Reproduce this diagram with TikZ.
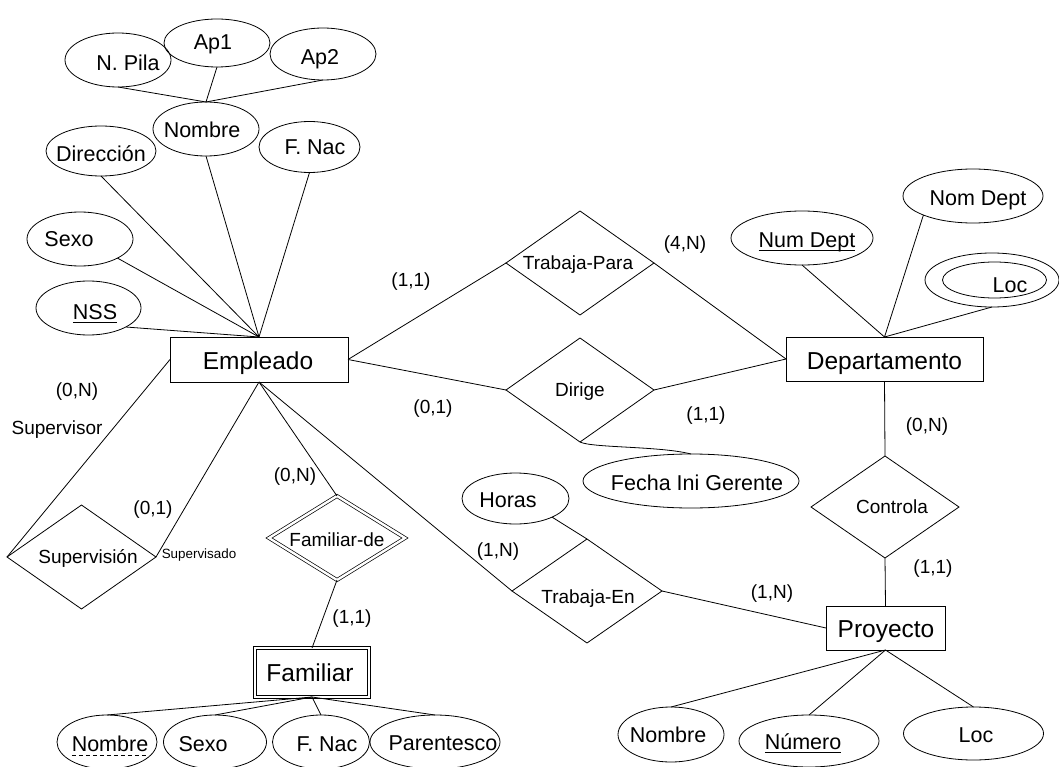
\documentclass[tikz,border=0pt]{standalone}
\usepackage{fontspec}
\setmainfont{Liberation Sans}
\usetikzlibrary{shapes.geometric,calc}

\begin{document}
\begin{tikzpicture}[x=1pt,y=-1pt,
  line width=0.8pt,
  every node/.style={inner sep=0pt, outer sep=0pt},
  entity/.style={draw, rectangle},
  weakentity/.style={draw, rectangle, double, double distance=2.4pt, line width=0.7pt},
  attr/.style={draw, ellipse},
  rel/.style={draw, diamond},
  weakrel/.style={draw, diamond, double, double distance=2.4pt, line width=0.7pt},
  fbig/.style={font=\fontsize{24.5}{28}\selectfont, text height=17.6pt, text depth=0pt},
  fattr/.style={font=\fontsize{21.5}{25}\selectfont, text height=15.5pt, text depth=0pt},
  frel/.style={font=\fontsize{19}{22}\selectfont, text height=13.7pt, text depth=0pt},
  fsmall/.style={font=\fontsize{13.4}{16}\selectfont, text height=9.6pt, text depth=0pt},
  uline/.style={line width=1.3pt},
  dline/.style={line width=0.8pt, dash pattern=on 4.5pt off 2.5pt},
]
\useasboundingbox (0,0) rectangle (1059,767);

% ---------------- Empleado and its attributes ----------------
\node[entity, minimum width=178, minimum height=45] (emp) at (259,359.5) {};
\node[fbig] (empt) at (258,361) {Empleado};

\node[attr, minimum width=106, minimum height=54] (pila) at (118,60) {};
\node[attr, minimum width=106, minimum height=48] (ap1) at (217,43) {};
\node[attr, minimum width=106, minimum height=52] (ap2) at (323,54) {};
\node[attr, minimum width=106, minimum height=54] (nombre) at (206,129) {};
\node[attr, minimum width=110, minimum height=50] (direc) at (101,151) {};
\node[attr, minimum width=101, minimum height=51] (fnac) at (309.5,147) {};
\node[attr, minimum width=106, minimum height=54] (sexo) at (80,239) {};
\node[attr, minimum width=105, minimum height=54] (nss) at (88.5,308) {};

\node[fattr] (pilat) at (128,63) {N. Pila};
\node[fattr] (ap1t) at (213,42) {Ap1};
\node[fattr] (ap2t) at (320,57) {Ap2};
\node[fattr] (nombret) at (202,130) {Nombre};
\node[fattr] (direct) at (101,154) {Dirección};
\node[fattr] (fnact) at (315,147) {F. Nac};
\node[fattr] (sexot) at (69,239) {Sexo};
\node[fattr] (nsst) at (95,312) {NSS};
\draw[uline] ($(nsst.base west)+(0,3)$) -- ($(nsst.base east)+(0,3)$);

\draw (pila.south) -- (nombre.north);
\draw (ap1.south) -- (nombre.north);
\draw (ap2.south) -- (nombre.north);
\draw (emp.north) -- (direc.south);
\draw (emp.north) -- (nombre.south);
\draw (emp.north) -- (fnac.south);
\draw (emp.north) -- (sexo.-27);
\draw (emp.north) -- (nss.-27);

% ---------------- Departamento and its attributes ----------------
\node[entity, minimum width=197, minimum height=44] (dept) at (884.5,359) {};
\node[fbig] (deptt) at (884.5,361) {Departamento};

\node[attr, minimum width=142, minimum height=54] (numd) at (802,238) {};
\node[attr, minimum width=140, minimum height=54] (nomd) at (973,196) {};
\node[attr, minimum width=134, minimum height=54] (locd) at (992,280) {};
\node[attr, minimum width=104, minimum height=36] (locdin) at (994.5,280) {};

\node[fattr] (numdt) at (807,240) {Num Dept};
\draw[uline] ($(numdt.base west)+(0,2.5)$) -- ($(numdt.base east)+(0,2.5)$);
\node[fattr] (nomdt) at (978,198) {Nom Dept};
\node[fattr] (locdt) at (1010,285) {Loc};

\draw (dept.north) -- (numd.south);
\draw (dept.north) -- (nomd.-159);
\draw (dept.north) -- (locd.south);

% ---------------- Trabaja-Para and Dirige ----------------
\node[rel, minimum width=148, minimum height=104] (tp) at (580,263) {};
\node[frel] (tpt) at (578,263) {Trabaja-Para};
\node[rel, minimum width=148, minimum height=104] (dirige) at (580,390) {};
\node[frel] (diriget) at (580,390) {Dirige};

\draw (emp.east) -- (tp.west);
\draw (tp.east) -- (dept.west);
\draw (emp.east) -- (dirige.west);
\draw (dirige.east) -- (dept.west);

\node[attr, minimum width=216, minimum height=54] (fig) at (691,481) {};
\node[fattr] (figt) at (697,483) {Fecha Ini Gerente};
\draw (dirige.south) .. controls (592,448) and (660,446) .. (fig.north);

\node[frel] (c1) at (411,280) {(1,1)};
\node[frel] (c2) at (685,243) {(4,N)};
\node[frel] (c3) at (433,407) {(0,1)};
\node[frel] (c4) at (706,414) {(1,1)};

% ---------------- Controla and Proyecto ----------------
\node[rel, minimum width=148, minimum height=102] (ctl) at (885,507) {};
\node[frel] (ctlt) at (892,507) {Controla};
\node[entity, minimum width=119, minimum height=44] (proj) at (885.5,628) {};
\node[fbig] (projt) at (886,629) {Proyecto};

\draw (dept.south) -- (ctl.north);
\draw (ctl.south) -- (proj.north);
\node[frel] (c5) at (927,425) {(0,N)};
\node[frel] (c6) at (933,567) {(1,1)};

\node[attr, minimum width=106, minimum height=55] (pnom) at (671,734.5) {};
\node[attr, minimum width=140, minimum height=52] (pnum) at (809,741) {};
\node[attr, minimum width=140, minimum height=53] (ploc) at (973.5,733.5) {};
\node[fattr] (pnomt) at (668,735) {Nombre};
\node[fattr] (pnumt) at (803,742) {Número};
\draw[uline] ($(pnumt.base west)+(0,3)$) -- ($(pnumt.base east)+(0,3)$);
\node[fattr] (ploct) at (976,735) {Loc};

\draw (proj.south) -- (pnom.north);
\draw (proj.south) -- (pnum.north);
\draw (proj.south) -- (ploc.north);

% ---------------- Trabaja-En ----------------
\node[rel, minimum width=150, minimum height=104] (te) at (587,591) {};
\node[frel] (tet) at (588,597) {Trabaja-En};
\node[attr, minimum width=107, minimum height=51] (horas) at (515.5,498.5) {};
\node[fattr] (horast) at (508,500) {Horas};

\draw (emp.south) -- (te.west);
\draw (te.east) -- (proj.west);
\draw (horas.-27) -- (te.north);
\node[frel] (c7) at (498,550) {(1,N)};
\node[frel] (c8) at (772,592) {(1,N)};

% ---------------- Supervision (recursive) ----------------
\node[rel, minimum width=149, minimum height=104] (sup) at (81.5,557) {};
\node[frel] (supt) at (88,557) {Supervisión};
\draw (emp.west) -- (sup.west);
\draw (emp.south) -- (sup.east);
\node[frel] (c9) at (77,390) {(0,N)};
\node[frel] (suprole) at (57,428) {Supervisor};
\node[frel] (c10) at (153,508) {(0,1)};
\node[fsmall] (supdrole) at (199,554) {Supervisado};

% ---------------- Familiar (weak entity) ----------------
\node[weakrel, minimum width=136, minimum height=84] (famde) at (337,538) {};
\node[frel] (famdet) at (337,540) {Familiar-de};
\node[weakentity, minimum width=114, minimum height=49] (fam) at (312,672.5) {};
\node[fbig] (famt) at (310,673) {Familiar};

\draw (emp.south) -- (famde.north);
\draw (famde.south) -- (fam.north);
\node[frel] (c11) at (295,475) {(0,N)};
\node[frel] (c12) at (352,617) {(1,1)};

\node[attr, minimum width=100, minimum height=54] (fnom) at (107,742) {};
\node[attr, minimum width=103, minimum height=54] (fsex) at (215,742) {};
\node[attr, minimum width=97, minimum height=54] (ffnac) at (321,742) {};
\node[attr, minimum width=130, minimum height=54] (fpar) at (435,742) {};
\node[fattr] (fnomt) at (110,744) {Nombre};
\draw[dline] ($(fnomt.base west)+(0,4)$) -- ($(fnomt.base east)+(0,4)$);
\node[fattr] (fsext) at (203,744) {Sexo};
\node[fattr] (ffnact) at (327,744) {F. Nac};
\node[fattr] (fpart) at (443,743) {Parentesco};

\draw (fam.south) -- (fnom.north);
\draw (fam.south) -- (fsex.north);
\draw (fam.south) -- (ffnac.north);
\draw (fam.south) -- (fpar.north);
\end{tikzpicture}
\end{document}
